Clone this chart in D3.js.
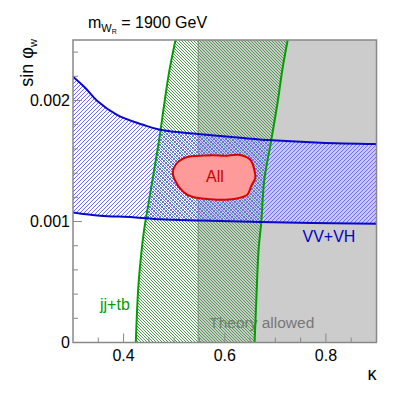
<!DOCTYPE html>
<html>
<head>
<meta charset="utf-8">
<script src="https://cdn.jsdelivr.net/npm/d3@7"></script>
<style>
  body { margin: 0; background: #fff; }
  text { font-family: "Liberation Sans", Helvetica, Arial, sans-serif; }
</style>
</head>
<body>
<div id="chart"></div>
<script>
// limits: kappa vs sin(phi_w)
var vvUpper = [[0.3,0.002196],[0.324,0.002105],[0.3475,0.001998],[0.387,0.001882],[0.4386,0.001799],
  [0.4723,0.001758],[0.5515,0.001721],[0.6307,0.001692],[0.694,0.001671],[0.789,0.001651],[0.9,0.00164]];
var vvLower = [[0.3,0.001074],[0.3535,0.001047],[0.4188,0.001036],[0.4723,0.001019],
  [0.5515,0.001008],[0.6703,0.000995],[0.9,0.000981]];
var jjLeft = [[0.4242,0],[0.4267,0.00027],[0.4297,0.000493],[0.4347,0.000725],[0.4406,0.000931],
  [0.4505,0.001179],[0.4604,0.001427],[0.4703,0.001675],[0.4802,0.001965],[0.4901,0.002237],[0.5026,0.0025]];
var jjRight = [[0.659,0],[0.6624,0.000353],[0.6669,0.000766],[0.6723,0.000998],[0.6782,0.001345],
  [0.6921,0.001675],[0.7053,0.002006],[0.7139,0.002254],[0.7244,0.0025]];
var allRegion = [[0.4974,0.001411],[0.5079,0.001493],[0.5277,0.001535],[0.5515,0.001543],[0.5772,0.001547],
  [0.601,0.001543],[0.6267,0.001551],[0.6505,0.00151],[0.6584,0.001427],[0.6604,0.001361],[0.6525,0.001295],
  [0.6446,0.001221],[0.6208,0.001188],[0.5911,0.001179],[0.5614,0.001188],[0.5356,0.001204],
  [0.5178,0.001246],[0.502,0.001337]];
var theoryMin = 0.5475;
var xTicks = [0.4, 0.6, 0.8];
var yTicks = [0, 0.001, 0.002];
var yTickLabels = ["0", "0.001", "0.002"];

var W = 407, H = 399;
var margin = {top: 40, right: 30.5, bottom: 56.5, left: 73};
var width = W - margin.left - margin.right,
    height = H - margin.top - margin.bottom;

var svg = d3.select("#chart").append("svg")
    .attr("width", W).attr("height", H);

var defs = svg.append("defs");
defs.append("clipPath").attr("id", "clip")
  .append("rect").attr("width", width).attr("height", height);

// pixel hatches like ROOT fill styles
function hatch(id, col, dir, n) {
  var p = defs.append("pattern").attr("id", id)
      .attr("patternUnits", "userSpaceOnUse").attr("width", n).attr("height", n);
  d3.range(n).forEach(function(i) {
    p.append("rect").attr("x", i).attr("y", dir > 0 ? n - 1 - i : i)
      .attr("width", 1).attr("height", 1)
      .attr("fill", col).attr("shape-rendering", "crispEdges");
  });
}
hatch("hatchBlue", "#6c6cff", 1, 4);
hatch("hatchGreen", "#4f9a4f", -1, 3);

var g = svg.append("g")
    .attr("transform", "translate(" + margin.left + "," + margin.top + ")");

var x = d3.scaleLinear().domain([0.3, 0.9]).range([0, width]);
var y = d3.scaleLinear().domain([0, 0.0025]).range([height, 0]);

var plot = g.append("g").attr("clip-path", "url(#clip)");

// theory allowed band
plot.append("rect")
    .attr("x", x(theoryMin)).attr("y", 0)
    .attr("width", x(0.9) - x(theoryMin)).attr("height", height)
    .attr("fill", "#cccccc");
plot.append("line")
    .attr("x1", x(theoryMin)).attr("x2", x(theoryMin))
    .attr("y1", 0).attr("y2", height)
    .attr("stroke", "#888").attr("stroke-width", 1);
plot.append("text")
    .attr("x", x(theoryMin) + 11).attr("y", 288)
    .attr("font-size", 15.5).attr("fill", "#777")
    .text("Theory allowed");

var line = d3.line().x(d => x(d[0])).y(d => y(d[1])).curve(d3.curveCatmullRom);

// jj+tb band
plot.append("path")
    .attr("d", line(jjLeft) + "L" + line(jjRight.slice().reverse()).slice(1) + "Z")
    .attr("fill", "url(#hatchGreen)");

// VV+VH band
plot.append("path")
    .attr("d", line(vvUpper) + "L" + line(vvLower.slice().reverse()).slice(1) + "Z")
    .attr("fill", "url(#hatchBlue)");

[jjLeft, jjRight].forEach(function(b) {
  plot.append("path").attr("d", line(b))
    .attr("fill", "none").attr("stroke", "#00a000").attr("stroke-width", 2);
});
[vvUpper, vvLower].forEach(function(b) {
  plot.append("path").attr("d", line(b))
    .attr("fill", "none").attr("stroke", "#0808cc").attr("stroke-width", 2);
});

// combined
plot.append("path")
    .attr("d", d3.line().x(d => x(d[0])).y(d => y(d[1])).curve(d3.curveCatmullRomClosed)(allRegion))
    .attr("fill", "#ff9a9a").attr("stroke", "#d80000").attr("stroke-width", 2);
g.append("text").attr("x", 142).attr("y", 141.5)
    .attr("text-anchor", "middle").attr("font-size", 16).attr("fill", "#cc0000")
    .text("All");

g.append("text").attr("x", 229.5).attr("y", 202)
    .attr("font-size", 16).attr("fill", "#0000cc").text("VV+VH");
g.append("text").attr("x", 27).attr("y", 270)
    .attr("font-size", 16).attr("fill", "#00a000").text("jj+tb");

// frame and axes
var axisCol = "#888";
g.append("rect").attr("width", width).attr("height", height)
    .attr("fill", "none").attr("stroke", axisCol).attr("stroke-width", 1.5);

var xMinor = d3.range(0.35, 0.9, 0.05).filter(v => xTicks.every(t => Math.abs(t - v) > 1e-6));
g.selectAll(".xminor").data(xMinor).enter().append("line")
    .attr("x1", d => x(d)).attr("x2", d => x(d))
    .attr("y1", height).attr("y2", height - 5)
    .attr("stroke", axisCol).attr("stroke-width", 1);
g.selectAll(".xmajor").data(xTicks).enter().append("line")
    .attr("x1", d => x(d)).attr("x2", d => x(d))
    .attr("y1", height).attr("y2", height - 9)
    .attr("stroke", axisCol).attr("stroke-width", 1);
g.selectAll(".xlab").data(xTicks).enter().append("text")
    .attr("x", d => x(d)).attr("y", height + 18)
    .attr("text-anchor", "middle").attr("font-size", 16)
    .text(d => d.toFixed(1));

var yMinor = d3.range(0.0002, 0.0025, 0.0002).filter(v => yTicks.every(t => Math.abs(t - v) > 1e-9));
g.selectAll(".yminor").data(yMinor).enter().append("line")
    .attr("x1", 0).attr("x2", 5)
    .attr("y1", d => y(d)).attr("y2", d => y(d))
    .attr("stroke", axisCol).attr("stroke-width", 1);
g.selectAll(".ymajor").data(yTicks).enter().append("line")
    .attr("x1", 0).attr("x2", 9)
    .attr("y1", d => y(d)).attr("y2", d => y(d))
    .attr("stroke", axisCol).attr("stroke-width", 1);
g.selectAll(".ylab").data(yTicks).enter().append("text")
    .attr("x", -3).attr("y", d => y(d)).attr("dy", "0.36em")
    .attr("text-anchor", "end").attr("font-size", 16)
    .text((d, i) => yTickLabels[i]);

// axis titles
g.append("text").attr("x", width).attr("y", height + 37.5)
    .attr("text-anchor", "end").attr("font-size", 18).text("κ");

var yt = svg.append("text")
    .attr("transform", "translate(33,39) rotate(-90)")
    .attr("text-anchor", "end").attr("font-size", 18);
yt.append("tspan").text("sin φ");
yt.append("tspan").attr("dy", 4).attr("font-size", 11).text("w");

// title
var tt = svg.append("text").attr("x", 88).attr("y", 28).attr("font-size", 16);
tt.append("tspan").text("m");
tt.append("tspan").attr("dy", 4).attr("font-size", 11).text("W");
tt.append("tspan").attr("dy", 2).attr("font-size", 7).text("R");
tt.append("tspan").attr("dy", -6).text(" = 1900 GeV");
</script>
</body>
</html>
